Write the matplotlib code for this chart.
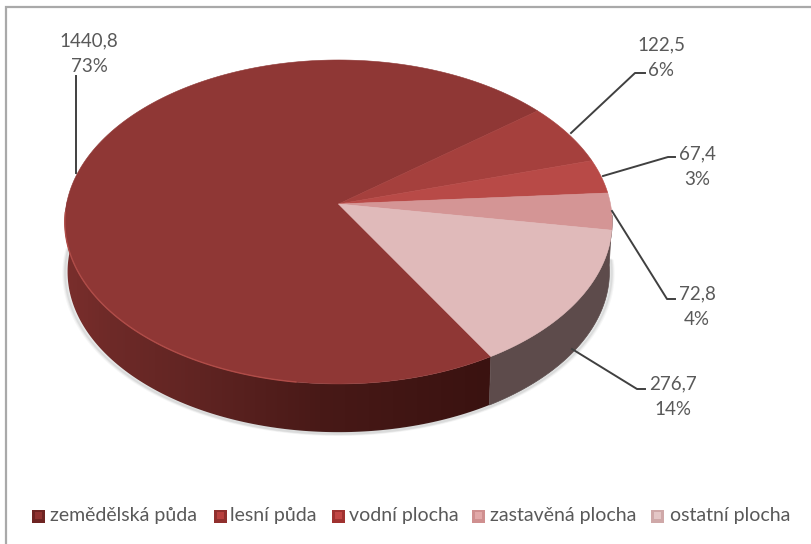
import numpy as np
import matplotlib
matplotlib.use("Agg")
import matplotlib.pyplot as plt
from matplotlib.patches import Polygon, Rectangle

# -------------------------
# Data
# -------------------------
categories = ["zemědělská půda", "lesní půda", "vodní plocha", "zastavěná plocha", "ostatní plocha"]
values = [1440.8, 122.5, 67.4, 72.8, 276.7]
top_colors = ["#8f3735", "#a5403d", "#b84a47", "#d49595", "#e0baba"]
legend_dark = ["#6e2422", "#90302e", "#a03230", "#cf8f8f", "#cfa8a8"]
legend_light = ["#8f3230", "#b8403e", "#c24644", "#e2a8a8", "#e4c6c6"]

# pie geometry in image pixels
cx, cy = 338.5, 204
rx, ry = 272, 160
persp = 0.111
depth = 50
bottom_scale = 0.99
start_angle = 38.5  # the first slice runs from here round the left side

plt.rcParams["font.family"] = ["Lato", "DejaVu Sans"]

fig = plt.figure(figsize=(8.11, 5.44), dpi=100)
ax = fig.add_axes([0, 0, 1, 1])
ax.axis("off")


def rim(deg, scale=1.0, dy=0.0):
    # perspective view of a circle
    t = np.radians(deg)
    u, v = np.cos(t), np.sin(t)
    w = 1 + persp * v
    return cx + scale * rx * u / w, cy + dy - scale * ry * v / w


# slice boundaries, going counter clockwise for the first, clockwise for the rest
shares = np.array(values) / sum(values) * 360
starts = [start_angle]
ends = [start_angle + shares[0]]
a = start_angle
for s in shares[1:]:
    ends.append(a)
    a -= s
    starts.append(a)

# -------------------------
# Frame
# -------------------------
ax.plot([6, 6, 811], [544, 7, 7], color="#a9a9a9", lw=1.6, solid_joinstyle="miter")

# -------------------------
# Soft shadow under the wall
# -------------------------
angs = np.linspace(178, 358, 240)
bx, by = rim(angs, bottom_scale, depth)
for grow, alpha in [(3.5, 0.05), (2.5, 0.07), (1.5, 0.1)]:
    ax.plot(bx + np.cos(np.radians(angs)) * grow, by + grow * 0.6, color="#505858", alpha=alpha, lw=2.5)

# -------------------------
# Wall, shaded along x
# -------------------------
shade_x = [65, 110, 200, 320, 489]
shade_r = [0x7a, 0x6e, 0x60, 0x48, 0x3a]
shade_g = [0x2e, 0x2a, 0x24, 0x19, 0x12]
shade_b = [0x2c, 0x28, 0x22, 0x17, 0x10]

wall_angles = np.linspace(178, ends[0], 140)
tx, ty = rim(wall_angles)
bx, by = rim(wall_angles, bottom_scale, depth)
outline = np.r_[np.c_[tx, ty], np.c_[bx, by][::-1]]
xs = np.arange(60, 500)
grad = np.stack([np.interp(xs, shade_x, shade_r), np.interp(xs, shade_x, shade_g), np.interp(xs, shade_x, shade_b)], axis=-1)[None, :, :] / 255
im = ax.imshow(grad, extent=(60, 500, 440, 200), aspect="auto", interpolation="bilinear")
im.set_clip_path(Polygon(outline, transform=ax.transData))

wall_angles = np.linspace(ends[0], 356, 80)
tx, ty = rim(wall_angles)
bx, by = rim(wall_angles, bottom_scale, depth)
ax.add_patch(Polygon(np.r_[np.c_[tx, ty], np.c_[bx, by][::-1]], facecolor="#5d4b4b", edgecolor="#5d4b4b", lw=0.5))

# -------------------------
# Top face
# -------------------------
for s, e, c in zip(starts, ends, top_colors):
    th = np.linspace(s, e, 200)
    x, y = rim(th)
    ax.add_patch(Polygon(np.r_[[[cx, cy]], np.c_[x, y]], facecolor=c, edgecolor=c, lw=0.4))

# light edge along the front left rim
th = np.linspace(183, 262, 80)
x, y = rim(th)
ax.plot(x, y, color="#b04c48", lw=1.0)

# -------------------------
# Labels with leader lines
# -------------------------
label_x = [89, 661, 697, 697, 673]
label_y = [53.5, 57.5, 166.5, 306.5, 396.5]
leaders = [
    [(76, 173), (76, 76)],
    [(571, 133), (635, 73), (645, 73)],
    [(603, 176), (668, 157), (675, 157)],
    [(612, 211), (667, 299), (675, 299)],
    [(572, 349), (637, 389), (645, 389)],
]
for v, lx, ly, pts in zip(values, label_x, label_y, leaders):
    pts = np.array(pts)
    ax.plot(pts[:, 0], pts[:, 1], color="#404040", lw=1.4)
    txt = f"{v:.1f}".replace(".", ",") + f"\n{v / sum(values) * 100:.0f}%"
    ax.text(lx, ly, txt, ha="center", va="center", fontsize=13.5, color="#595959", linespacing=1.6)

# -------------------------
# Legend
# -------------------------
marker_x = [32, 214, 332, 472, 651]
text_x = [50, 230, 349, 490, 670]
for name, mx, tx_, d, l in zip(categories, marker_x, text_x, legend_dark, legend_light):
    ax.add_patch(Rectangle((mx, 510), 13, 13, facecolor=d, edgecolor="none"))
    ax.add_patch(Rectangle((mx + 3, 512), 7, 7, facecolor=l, edgecolor="none"))
    ax.text(tx_, 516, name, ha="left", va="center", fontsize=14, color="#595959")

ax.set_xlim(0, 811)
ax.set_ylim(544, 0)
fig.savefig("out.png", dpi=100)
